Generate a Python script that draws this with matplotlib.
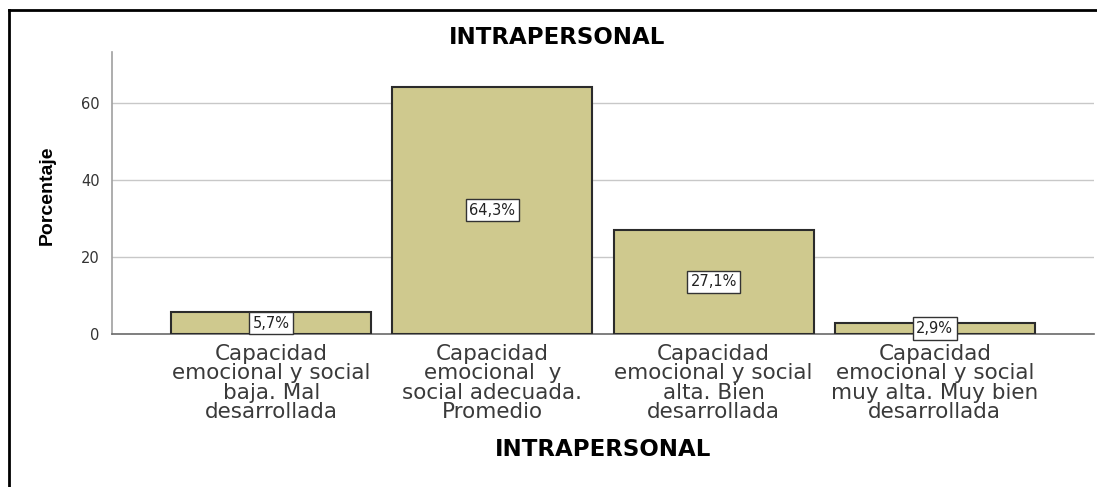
import matplotlib
matplotlib.use("Agg")
import matplotlib.pyplot as plt
from matplotlib.lines import Line2D

# datos
categorias = [
    "Capacidad\nemocional y social\nbaja. Mal\ndesarrollada",
    "Capacidad\nemocional  y\nsocial adecuada.\nPromedio",
    "Capacidad\nemocional y social\nalta. Bien\ndesarrollada",
    "Capacidad\nemocional y social\nmuy alta. Muy bien\ndesarrollada",
]
porcentajes = [5.7, 64.3, 27.1, 2.9]
etiquetas = ["5,7%", "64,3%", "27,1%", "2,9%"]
y_ticks = [0, 20, 40, 60]

W, H = 1097, 487
fig = plt.figure(figsize=(W / 100, H / 100), dpi=100)
fig.patch.set_facecolor("white")
ax = fig.add_axes([112 / W, 1 - 334 / H, (1094 - 112) / W, (334 - 52) / H])

# barras
x = list(range(len(porcentajes)))
ax.bar(x, porcentajes, width=0.905, color="#CFC98E", edgecolor="#2b2b2b",
       linewidth=1.5, zorder=3)

for i, v in enumerate(porcentajes):
    ax.text(i, v / 2, etiquetas[i], ha="center", va="center", fontsize=10.5,
            family="DejaVu Sans", color="#222222", zorder=4,
            bbox=dict(boxstyle="square,pad=0.25", facecolor="white",
                      edgecolor="#333333", linewidth=1))

ax.set_xlim(-0.72, 3.72)
ax.set_ylim(0, 73.3)
ax.set_yticks(y_ticks)
ax.set_yticklabels([str(t) for t in y_ticks], fontsize=10.5,
                   family="DejaVu Sans", color="#333333")
ax.set_xticks(x)
ax.set_xticklabels(categorias, fontsize=15.5, family="DejaVu Sans",
                   color="#3a3a3a", linespacing=0.97, multialignment="center")
ax.tick_params(axis="y", length=0, pad=9)
ax.tick_params(axis="x", length=0, pad=7)

ax.yaxis.grid(True, color="#c8c8c8", linewidth=1, zorder=0)
ax.set_axisbelow(True)
for s in ["top", "right"]:
    ax.spines[s].set_visible(False)
ax.spines["left"].set_color("#a0a0a0")
ax.spines["left"].set_linewidth(1.2)
ax.spines["bottom"].set_color("#6a6a6a")
ax.spines["bottom"].set_linewidth(1.2)

# titulos
fig.text(557 / W, 1 - 37 / H, "INTRAPERSONAL", ha="center", va="center",
         fontsize=16.5, fontweight="bold", family="DejaVu Sans", color="black")
fig.text(603 / W, 1 - 449 / H, "INTRAPERSONAL", ha="center", va="center",
         fontsize=16.5, fontweight="bold", family="DejaVu Sans", color="black")
fig.text(47 / W, 1 - 195 / H, "Porcentaje", ha="center", va="center",
         rotation=90, fontsize=14, fontweight="bold",
         family="Liberation Sans", color="black")

# marco exterior
fig.add_artist(Line2D([9 / W, 9 / W], [0, 1 - 10 / H], color="black", linewidth=2))
fig.add_artist(Line2D([9 / W, 1], [1 - 10 / H, 1 - 10 / H], color="black", linewidth=2))

fig.savefig("out.png", dpi=100)
